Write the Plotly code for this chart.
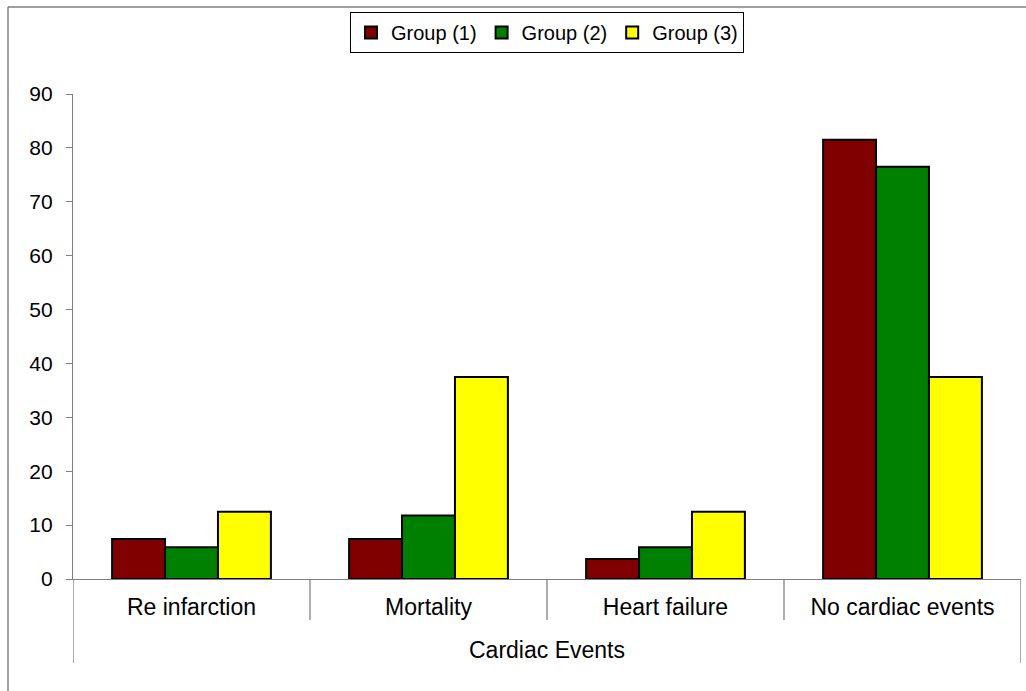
import plotly.graph_objects as go

categories = ["Re infarction", "Mortality", "Heart failure", "No cardiac events"]
group_names = ["Group (1)", "Group (2)", "Group (3)"]
group1 = [7.4, 7.4, 3.7, 81.5]
group2 = [5.9, 11.8, 5.9, 76.5]
group3 = [12.5, 37.5, 12.5, 37.5]
colors = ["#800000", "#008000", "#FFFF00"]
y_ticks = [0, 10, 20, 30, 40, 50, 60, 70, 80, 90]
outer_label = "Cardiac Events"

FONT = "Liberation Sans, Arial, sans-serif"

fig = go.Figure()
for name, vals, col in zip(group_names, [group1, group2, group3], colors):
    fig.add_trace(go.Bar(
        x=categories, y=vals, name=name,
        marker=dict(color=col, line=dict(color="black", width=2)),
    ))

L, R, T, B = 73, 5, 94, 112
W, H = 1026, 691
pw = W - L - R
ph = H - T - B

def py(pix):  # pixel y from top -> paper y
    return (H - B - pix) / ph

def px(pix):
    return (pix - L) / pw

shapes = []
for i in range(1, len(categories)):
    shapes.append(dict(type="line", xref="x", yref="paper", x0=i - 0.5, x1=i - 0.5,
                       y0=0, y1=py(620), line=dict(color="#808080", width=1.3)))
for xv in [-0.5, len(categories) - 0.5]:
    shapes.append(dict(type="line", xref="x", yref="paper", x0=xv, x1=xv,
                       y0=0, y1=py(663), line=dict(color="#808080", width=1.3)))
# chart border (left and top edges visible; right/bottom fall outside the image)
shapes.append(dict(type="line", xref="paper", yref="paper", x0=px(8), x1=px(8),
                   y0=py(700), y1=py(7), line=dict(color="#808080", width=1.5)))
shapes.append(dict(type="line", xref="paper", yref="paper", x0=px(8), x1=px(1040),
                   y0=py(7), y1=py(7), line=dict(color="#808080", width=1.5)))

fig.update_layout(
    width=W, height=H,
    margin=dict(l=L, r=R, t=T, b=B, autoexpand=False),
    paper_bgcolor="white", plot_bgcolor="white",
    font=dict(family=FONT, size=22, color="black"),
    barmode="group", bargap=0.33, bargroupgap=0,
    showlegend=True,
    legend=dict(orientation="h", x=0.5, xanchor="center", y=py(12), yanchor="top",
                bordercolor="black", borderwidth=1, bgcolor="white",
                font=dict(size=20, family=FONT), itemwidth=30,
                traceorder="normal"),
    xaxis=dict(type="category", showline=True, linecolor="#808080", linewidth=1.3,
               ticks="", showgrid=False, zeroline=False, tickfont=dict(size=23),
               range=[-0.5, len(categories) - 0.5], ticklabelstandoff=7),
    yaxis=dict(range=[0, 90], tickvals=y_ticks, showline=True, linecolor="#808080",
               linewidth=1.3, ticks="outside", ticklen=6, tickcolor="#808080",
               tickfont=dict(size=21),
               showgrid=False, zeroline=False, ticklabelstandoff=9),
    shapes=shapes,
    annotations=[dict(text=outer_label, xref="paper", yref="paper", x=0.5, y=py(650),
                      showarrow=False, yanchor="middle", font=dict(size=23, family=FONT))],
)

fig.write_html("out.html", post_script="document.body.style.margin='0';",
               config={"displayModeBar": False})
